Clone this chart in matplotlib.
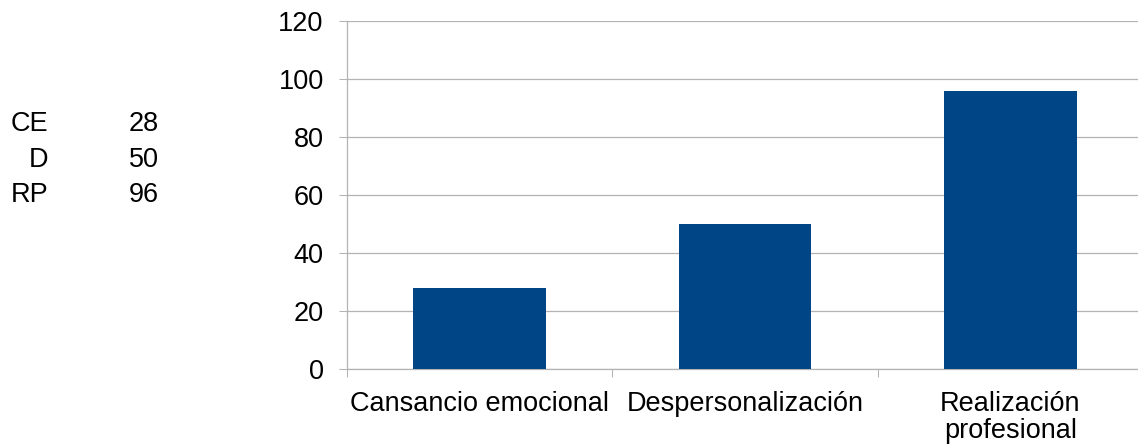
import numpy as np
import matplotlib.pyplot as plt
from matplotlib.ticker import FixedLocator

plt.rcParams['font.family'] = ['Liberation Sans', 'DejaVu Sans']

# datos
siglas = ['CE', 'D', 'RP']
puntajes = [28, 50, 96]
dimensiones = ['Cansancio emocional', 'Despersonalización', 'Realización\nprofesional']

gris = '#b3b3b3'
azul = '#004586'
fs = 19.5

fig = plt.figure(figsize=(11.38, 4.47), dpi=100)
ax = fig.add_axes([347 / 1138, 78 / 447, 796 / 1138, 348 / 447])

X = np.arange(len(dimensiones))
ax.bar(X, puntajes, width=0.5, color=azul, zorder=3)

ax.set_xlim(-0.5, 2.5)
ax.set_ylim(0, 120)
ax.set_yticks(np.arange(0, 121, 20))
ax.set_xticks(X)
ax.set_xticklabels(dimensiones, fontsize=fs, linespacing=1.05)
ax.xaxis.set_minor_locator(FixedLocator([-0.5, 0.5, 1.5, 2.5]))
ax.tick_params(axis='x', which='major', length=0, pad=16)
ax.tick_params(axis='x', which='minor', length=5.8, width=0.75, color=gris)
ax.tick_params(axis='y', length=5.8, width=0.75, color=gris, labelsize=fs, pad=11)

ax.grid(axis='y', color=gris, linewidth=0.9, zorder=0)
for lado in ['top', 'right']:
    ax.spines[lado].set_visible(False)
for lado in ['left', 'bottom']:
    ax.spines[lado].set_color(gris)
    ax.spines[lado].set_linewidth(0.9)

# tabla de valores a la izquierda
filas_y = [124, 160, 195]
for s, v, y in zip(siglas, puntajes, filas_y):
    fig.text(48 / 1138, 1 - y / 447, s, ha='right', va='center', fontsize=fs)
    fig.text(159 / 1138, 1 - y / 447, str(v), ha='right', va='center', fontsize=fs)

plt.savefig('out.png', dpi=100)
